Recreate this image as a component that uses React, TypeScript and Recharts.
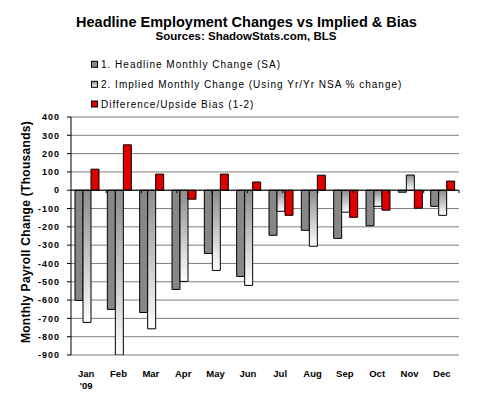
import React from 'react';
import { BarChart, Bar, XAxis, YAxis, CartesianGrid, ReferenceLine, Label } from 'recharts';

const months = ['Jan', 'Feb', 'Mar', 'Apr', 'May', 'Jun', 'Jul', 'Aug', 'Sep', 'Oct', 'Nov', 'Dec'];
const yearLabels = ["'09", '', '', '', '', '', '', '', '', '', '', ''];
const headline = [-602, -651, -668, -542, -345, -471, -246, -219, -263, -194, -11, -88];
const implied = [-722, -900, -757, -498, -438, -520, -115, -306, -120, -88, 83, -137];
const difference = [115, 248, 88, -49, 88, 45, -137, 82, -148, -109, -98, 50];
const yTicks = [400, 300, 200, 100, 0, -100, -200, -300, -400, -500, -600, -700, -800, -900];
const categoryBoundaries = [1, 2, 3, 4, 5, 6, 7, 8, 9, 10, 11];
const seriesNames = [
  '1. Headline Monthly Change (SA)',
  '2. Implied Monthly Change (Using Yr/Yr  NSA % change)',
  'Difference/Upside Bias (1-2)',
];
const titleText = 'Headline Employment Changes vs Implied & Bias';
const subtitleText = 'Sources: ShadowStats.com, BLS';
const yAxisTitle = 'Monthly Payroll Change (Thousands)';

const data = months.map((m, i) => ({
  month: m,
  headline: headline[i],
  implied: implied[i],
  difference: difference[i],
}));

const FONT = '"Liberation Sans", Arial, Helvetica, sans-serif';
const GRAY = '#878787';
const RED = '#e00000';

const MonthTick = (props: any) => {
  const { x, y, payload } = props;
  const idx = months.indexOf(payload.value);
  const yr = idx >= 0 ? yearLabels[idx] : '';
  return (
    <g>
      <text x={x - 1} y={y + 21.5} textAnchor="middle" fontSize={9.5} fontWeight="bold" fontFamily={FONT} fill="#000">
        {payload.value}
      </text>
      {yr ? (
        <text x={x - 1} y={y + 33.5} textAnchor="middle" fontSize={9.5} fontWeight="bold" fontFamily={FONT} fill="#000">
          {yr}
        </text>
      ) : null}
    </g>
  );
};

const YTitle = (props: any) => {
  const vb = props.viewBox || { x: 0, y: 117, width: 71, height: 238 };
  const cx = 30;
  const cy = vb.y + vb.height / 2 - 4;
  return (
    <text
      x={cx}
      y={cy}
      transform={`rotate(-90, ${cx}, ${cy})`}
      textAnchor="middle"
      fontSize={12}
      fontWeight="bold"
      fontFamily={FONT}
      letterSpacing={0.3}
      fill="#000"
    >
      {yAxisTitle}
    </text>
  );
};

export default function App() {
  const legendFills = [GRAY, 'url(#legImplied)', RED];
  const legendRows = [64.3, 84.3, 104];
  return (
    <div style={{ position: 'absolute', left: 0, top: 0, width: 479, height: 403, background: '#fff' }}>
      <BarChart
        width={479}
        height={403}
        data={data}
        margin={{ top: 117, right: 20, bottom: 8, left: 0 }}
        barCategoryGap={4}
        barGap={0}
      >
        <defs>
          <linearGradient id="impliedGrad" x1="0" y1="0" x2="0" y2="1">
            <stop offset="0%" stopColor="#8c8c8c" />
            <stop offset="100%" stopColor="#ffffff" />
          </linearGradient>
        </defs>
        <CartesianGrid vertical={false} stroke="#808080" strokeWidth={1} />
        <XAxis
          dataKey="month"
          axisLine={false}
          tickLine={false}
          tickSize={0}
          tickMargin={0}
          height={40}
          interval={0}
          tick={<MonthTick />}
        />
        <XAxis xAxisId="num" type="number" domain={[0, 12]} hide allowDataOverflow />
        <YAxis
          domain={[-900, 400]}
          ticks={yTicks}
          interval={0}
          width={71}
          tickSize={4}
          tickMargin={7}
          axisLine={{ stroke: '#000', strokeWidth: 1 }}
          tickLine={{ stroke: '#000', strokeWidth: 1 }}
          tick={{ fontSize: 9, fontWeight: 'bold', fontFamily: FONT, fill: '#000', letterSpacing: 1 }}
          allowDataOverflow
        >
          <Label content={<YTitle />} />
        </YAxis>
        <ReferenceLine xAxisId="num" x={12} stroke="#808080" strokeWidth={1} ifOverflow="extendDomain" />
        <Bar dataKey="headline" fill={GRAY} stroke="#000" strokeWidth={1} isAnimationActive={false} />
        <Bar dataKey="implied" fill="url(#impliedGrad)" stroke="#000" strokeWidth={1} isAnimationActive={false} />
        <Bar dataKey="difference" fill={RED} stroke="#000" strokeWidth={1} isAnimationActive={false} />
        <ReferenceLine y={0} stroke="#000" strokeWidth={1} />
        {categoryBoundaries.map((b) => (
          <ReferenceLine
            key={b}
            xAxisId="num"
            segment={[
              { x: b, y: 0 },
              { x: b, y: -16 },
            ]}
            stroke="#000"
            strokeWidth={1}
          />
        ))}
      </BarChart>
      <svg
        width={479}
        height={112}
        style={{ position: 'absolute', left: 0, top: 0, pointerEvents: 'none' }}
      >
        <defs>
          <linearGradient id="legImplied" x1="0" y1="0" x2="0" y2="1">
            <stop offset="0%" stopColor="#8c8c8c" />
            <stop offset="100%" stopColor="#ffffff" />
          </linearGradient>
        </defs>
        <text x={246.5} y={27.3} textAnchor="middle" fontSize={14.5} fontWeight="bold" fontFamily={FONT} fill="#000">
          {titleText}
        </text>
        <text x={246} y={40} textAnchor="middle" fontSize={11.5} fontWeight="bold" fontFamily={FONT} fill="#000">
          {subtitleText}
        </text>
        {seriesNames.map((name, i) => (
          <g key={name}>
            <rect
              x={91.5}
              y={legendRows[i] - 3}
              width={6}
              height={6}
              fill={legendFills[i]}
              stroke="#000"
              strokeWidth={1}
            />
            <text
              x={101}
              y={legendRows[i] + 3.6}
              fontSize={10}
              fontFamily={FONT}
              letterSpacing={1}
              fill="#000"
            >
              {name}
            </text>
          </g>
        ))}
      </svg>
    </div>
  );
}
